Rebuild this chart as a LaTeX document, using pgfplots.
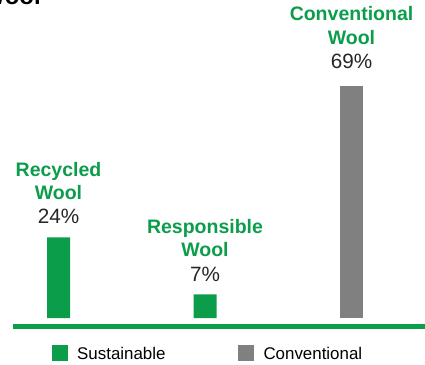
\documentclass[border=0pt]{standalone}
\usepackage{fontspec}
\setmainfont{Liberation Sans}
\usepackage{pgfplots}
\pgfplotsset{compat=1.18}
\definecolor{wgreen}{RGB}{12,157,75}
\definecolor{wgray}{RGB}{128,128,128}
\begin{document}
\begin{tikzpicture}[x=1pt,y=1pt,
  lbl/.style={anchor=base, inner sep=0pt, text=wgreen, font=\fontsize{19.5}{22}\selectfont\bfseries},
  pct/.style={anchor=base, inner sep=0pt, text=black!85, font=\fontsize{20.7}{24}\selectfont}]
\begin{axis}[
  at={(58.5pt,46pt)}, anchor=origin,
  x=146.5pt, y=3.36pt,
  xmin=-0.4, xmax=2.5, ymin=-14, ymax=95,
  hide axis, clip=false,
  ybar, bar width=23pt, bar shift=0pt,
  legend columns=2,
  legend cell align=left,
  legend image code/.code={\fill[#1] (0pt,-8pt) rectangle (16pt,8pt);},
  legend style={at={(axis cs:-0.0464,-10.42)}, anchor=west, draw=none, fill=none,
    inner sep=0pt, outer sep=0pt, font=\fontsize{16.9}{18}\selectfont,
    nodes={inner sep=0pt, text depth=0pt},
    /tikz/every odd column/.append style={column sep=9.5pt},
    /tikz/every even column/.append style={column sep=72.5pt}},
]
\addplot[fill=wgreen, draw=none] coordinates {(0,24) (1,7)};
\addplot[fill=wgray, draw=none] coordinates {(2,69)};
\legend{Sustainable, Conventional}
\node[lbl] at ([yshift=141.3pt]axis cs:0,0) {Recycled};
\node[lbl] at ([yshift=118pt]axis cs:0,0) {Wool};
\node[pct] at ([yshift=94pt]axis cs:0,0) {24\%};
\node[lbl] at ([yshift=84pt]axis cs:1,0) {Responsible};
\node[lbl] at ([yshift=61.3pt]axis cs:1,0) {Wool};
\node[pct] at ([yshift=37pt]axis cs:1,0) {7\%};
\node[lbl] at ([yshift=297pt]axis cs:2,0) {Conventional};
\node[lbl] at ([yshift=273pt]axis cs:2,0) {Wool};
\node[pct] at ([yshift=249pt]axis cs:2,0) {69\%};
\end{axis}
\draw[wgreen, line width=5pt] (13,37.5) -- (425,37.5);
\node[anchor=base east, inner sep=0pt, font=\fontsize{24}{28}\selectfont\bfseries] at (41,359) {Wool};
\pgfresetboundingbox
\useasboundingbox (0,0) rectangle (425,364);
\end{tikzpicture}
\end{document}
